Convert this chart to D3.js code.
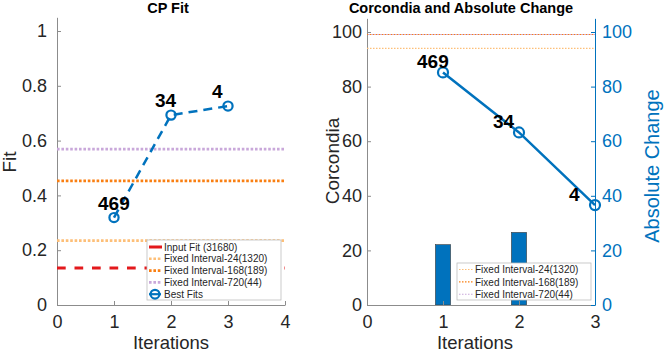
<!DOCTYPE html>
<html>
<head>
<meta charset="utf-8">
<script src="https://cdn.jsdelivr.net/npm/d3@7"></script>
<style>
  body { margin: 0; background: #fff; }
  svg { display: block; font-family: "Liberation Sans", Arial, Helvetica, sans-serif; }
  .axis text { font-size: 18px; fill: #262626; }
</style>
</head>
<body>
<svg id="chart" width="664" height="353"></svg>
<script>
// ---- data ----
const iterations = [1, 2, 3];
const pointLabels = ['469', '34', '4'];

// CP Fit panel
const bestFits = [0.319, 0.693, 0.726];
const inputFit = 0.135;
const fitRefs = [
  { name: 'Fixed Interval-24(1320)', value: 0.235, color: '#fdbf78' },
  { name: 'Fixed Interval-168(189)', value: 0.453, color: '#f97f12' },
  { name: 'Fixed Interval-720(44)', value: 0.569, color: '#c9a8da' }
];

// Corcondia panel
const corcondia = [85.2, 63.2, 36.6];
const barIterations = [1, 2];
const absoluteChange = [22.1, 26.6];
const corcRefs = [
  { name: 'Fixed Interval-24(1320)', value: 94.0, color: '#fdbf78' },
  { name: 'Fixed Interval-168(189)', value: 99.1, color: '#f97f12' },
  { name: 'Fixed Interval-720(44)', value: 99.1, color: '#c9a8da' }
];

const fitTicks = [0, 0.2, 0.4, 0.6, 0.8, 1];
const corcTicks = [0, 20, 40, 60, 80, 100];

const blue = '#0072bd';
const red = '#e3191c';
const axisGrey = '#8c8c8c';

const svg = d3.select('#chart');

// ---------- left panel: CP Fit ----------
const x1 = d3.scaleLinear().domain([0, 4]).range([57, 285]);
const y1 = d3.scaleLinear().domain([0, 1.05]).range([305, 17.3]);

const left = svg.append('g');

left.append('g')
  .attr('class', 'axis')
  .attr('transform', `translate(0,${y1(0)})`)
  .call(d3.axisBottom(x1).tickValues([0, 1, 2, 3, 4]).tickFormat(d3.format('d'))
    .tickSizeInner(-4).tickSizeOuter(0).tickPadding(10.5));

left.append('g')
  .attr('class', 'axis')
  .attr('transform', `translate(${x1(0)},0)`)
  .call(d3.axisLeft(y1).tickValues(fitTicks).tickFormat(d => d === 0 || d === 1 ? d : d3.format('.1f')(d))
    .tickSizeInner(-4).tickSizeOuter(0).tickPadding(10));

// horizontal reference lines
left.append('line')
  .attr('x1', x1(0)).attr('x2', x1(4))
  .attr('y1', y1(inputFit)).attr('y2', y1(inputFit))
  .attr('stroke', red).attr('stroke-width', 2.8)
  .attr('stroke-dasharray', '8.7,8.8');

left.selectAll('.fitref')
  .data(fitRefs)
  .join('line')
  .attr('class', 'fitref')
  .attr('x1', x1(0)).attr('x2', x1(4))
  .attr('y1', d => y1(d.value)).attr('y2', d => y1(d.value))
  .attr('stroke', d => d.color).attr('stroke-width', 2.6)
  .attr('stroke-dasharray', '2.6,1.8');

// best fits
const fitPts = iterations.map((it, i) => ({ it, v: bestFits[i], label: pointLabels[i] }));
left.append('path')
  .datum(fitPts)
  .attr('fill', 'none')
  .attr('stroke', blue).attr('stroke-width', 2.5)
  .attr('stroke-dasharray', '9,6')
  .attr('d', d3.line().x(d => x1(d.it)).y(d => y1(d.v)));

left.selectAll('.fitpt')
  .data(fitPts)
  .join('circle')
  .attr('class', 'fitpt')
  .attr('cx', d => x1(d.it)).attr('cy', d => y1(d.v))
  .attr('r', 4.6)
  .attr('fill', 'none').attr('stroke', blue).attr('stroke-width', 2.2);

left.selectAll('.fitlab')
  .data(fitPts)
  .join('text')
  .attr('class', 'fitlab')
  .attr('x', d => x1(d.it) - 16).attr('y', d => y1(d.v) - 8)
  .attr('font-size', 19).attr('font-weight', 'bold').attr('fill', '#000')
  .text(d => d.label);

left.append('text')
  .attr('x', 168).attr('y', 13)
  .attr('text-anchor', 'middle')
  .attr('font-size', 14.5).attr('font-weight', 'bold').attr('fill', '#000')
  .text('CP Fit');

left.append('text')
  .attr('x', x1(2)).attr('y', 349)
  .attr('text-anchor', 'middle')
  .attr('font-size', 18.5).attr('fill', '#262626')
  .text('Iterations');

left.append('text')
  .attr('transform', 'translate(16,162) rotate(-90)')
  .attr('text-anchor', 'middle')
  .attr('font-size', 19).attr('fill', '#262626')
  .text('Fit');

// left legend
const leg1 = left.append('g');
leg1.append('rect')
  .attr('x', 147).attr('y', 240).attr('width', 134).attr('height', 60)
  .attr('fill', '#fff').attr('stroke', '#bdbdbd').attr('stroke-width', 0.8);

const leg1Items = [
  { name: 'Input Fit (31680)', color: red, dash: '8,0', width: 2.8 },
  ...fitRefs.map(d => ({ name: d.name, color: d.color, dash: '2.6,1.8', width: 2.6 })),
  { name: 'Best Fits', color: blue, dash: null, width: 2.2, marker: true }
];
leg1Items.forEach((d, i) => {
  const yy = 247 + i * 11.8;
  if (d.marker) {
    leg1.append('line')
      .attr('x1', 149).attr('x2', 161).attr('y1', yy).attr('y2', yy)
      .attr('stroke', d.color).attr('stroke-width', d.width);
    leg1.append('circle')
      .attr('cx', 155).attr('cy', yy).attr('r', 4.4)
      .attr('fill', 'none').attr('stroke', d.color).attr('stroke-width', d.width);
  } else {
    leg1.append('line')
      .attr('x1', 149).attr('x2', 162).attr('y1', yy).attr('y2', yy)
      .attr('stroke', d.color).attr('stroke-width', d.width)
      .attr('stroke-dasharray', d.dash);
  }
  leg1.append('text')
    .attr('x', 164).attr('y', yy + 3.6)
    .attr('font-size', 10).attr('fill', '#262626')
    .text(d.name);
});

// ---------- right panel: Corcondia and Absolute Change ----------
const x2 = d3.scaleLinear().domain([0, 3]).range([367, 595]);
const y2 = d3.scaleLinear().domain([0, 105]).range([305, 18.35]);

const right = svg.append('g');

// bars (absolute change)
right.selectAll('.bar')
  .data(barIterations.map((it, i) => ({ it, v: absoluteChange[i] })))
  .join('rect')
  .attr('class', 'bar')
  .attr('x', d => x2(d.it - 0.1)).attr('width', x2(0.2) - x2(0))
  .attr('y', d => y2(d.v)).attr('height', d => y2(0) - y2(d.v))
  .attr('fill', blue).attr('stroke', '#3c3c3c').attr('stroke-width', 0.6);

right.append('g')
  .attr('class', 'axis')
  .attr('transform', `translate(0,${y2(0)})`)
  .call(d3.axisBottom(x2).tickValues([0, 1, 2, 3]).tickFormat(d3.format('d'))
    .tickSizeInner(-4).tickSizeOuter(0).tickPadding(10.5));

right.append('g')
  .attr('class', 'axis')
  .attr('transform', `translate(${x2(0)},0)`)
  .call(d3.axisLeft(y2).tickValues(corcTicks)
    .tickSizeInner(-4).tickSizeOuter(0).tickPadding(5));

const rAxis = right.append('g')
  .attr('class', 'axis raxis')
  .attr('transform', `translate(${x2(3)},0)`)
  .call(d3.axisRight(y2).tickValues(corcTicks)
    .tickSizeInner(-4).tickSizeOuter(0).tickPadding(7));
rAxis.selectAll('text').style('fill', blue);
rAxis.selectAll('line').attr('stroke', blue);
rAxis.select('.domain').attr('stroke', blue);

svg.selectAll('.axis .domain').filter(function () { return !this.parentNode.classList.contains('raxis'); })
  .attr('stroke', axisGrey);
svg.selectAll('.axis .tick line').filter(function () { return !this.parentNode.parentNode.classList.contains('raxis'); })
  .attr('stroke', axisGrey);

right.selectAll('.corcref')
  .data(corcRefs)
  .join('line')
  .attr('class', 'corcref')
  .attr('x1', x2(0)).attr('x2', x2(3))
  .attr('y1', d => y2(d.value)).attr('y2', d => y2(d.value))
  .attr('stroke', d => d.color).attr('stroke-width', 1.1)
  .attr('stroke-dasharray', '1.5,1.5')
  .attr('stroke-dashoffset', (d, i) => i === 2 ? 1.5 : 0);

const corcPts = iterations.map((it, i) => ({ it, v: corcondia[i], label: pointLabels[i] }));
right.append('path')
  .datum(corcPts)
  .attr('fill', 'none')
  .attr('stroke', blue).attr('stroke-width', 2.5)
  .attr('d', d3.line().x(d => x2(d.it)).y(d => y2(d.v)));

right.selectAll('.corcpt')
  .data(corcPts)
  .join('circle')
  .attr('class', 'corcpt')
  .attr('cx', d => x2(d.it)).attr('cy', d => y2(d.v))
  .attr('r', 5)
  .attr('fill', 'none').attr('stroke', blue).attr('stroke-width', 2.2);

right.selectAll('.corclab')
  .data(corcPts)
  .join('text')
  .attr('class', 'corclab')
  .attr('x', d => x2(d.it) - 26).attr('y', d => y2(d.v) - 4)
  .attr('font-size', 19).attr('font-weight', 'bold').attr('fill', '#000')
  .text(d => d.label);

right.append('text')
  .attr('x', 461).attr('y', 13)
  .attr('text-anchor', 'middle')
  .attr('font-size', 14.5).attr('font-weight', 'bold').attr('fill', '#000')
  .text('Corcondia and Absolute Change');

right.append('text')
  .attr('x', 475).attr('y', 349)
  .attr('text-anchor', 'middle')
  .attr('font-size', 18.5).attr('fill', '#262626')
  .text('Iterations');

right.append('text')
  .attr('transform', 'translate(339,161) rotate(-90)')
  .attr('text-anchor', 'middle')
  .attr('font-size', 19).attr('fill', '#262626')
  .text('Corcondia');

right.append('text')
  .attr('transform', 'translate(659,166) rotate(-90)')
  .attr('text-anchor', 'middle')
  .attr('font-size', 20).attr('fill', blue)
  .text('Absolute Change');

// right legend
const leg2 = right.append('g');
leg2.append('rect')
  .attr('x', 457).attr('y', 263).attr('width', 134).attr('height', 37)
  .attr('fill', '#fff').attr('stroke', '#bdbdbd').attr('stroke-width', 0.8);
corcRefs.forEach((d, i) => {
  const yy = 269.5 + i * 12.4;
  leg2.append('line')
    .attr('x1', 459).attr('x2', 473).attr('y1', yy).attr('y2', yy)
    .attr('stroke', d.color).attr('stroke-width', 1.1)
    .attr('stroke-dasharray', '1.5,1.5');
  leg2.append('text')
    .attr('x', 475).attr('y', yy + 3.6)
    .attr('font-size', 10).attr('fill', '#262626')
    .text(d.name);
});
</script>
</body>
</html>
